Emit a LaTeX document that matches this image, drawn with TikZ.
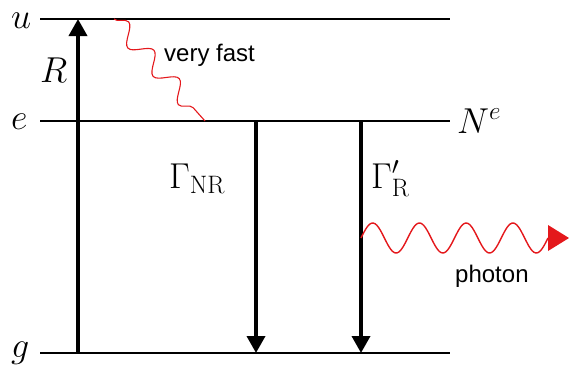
\documentclass[tikz,border=0pt]{standalone}
\usepackage{fix-cm}
\usepackage{fontspec}
\newfontfamily\labelfont{Liberation Sans}
\usetikzlibrary{arrows.meta,decorations.pathmorphing}
\definecolor{photonred}{RGB}{228,24,28}

\begin{document}
\begin{tikzpicture}[x=1pt, y=-1pt,
  level/.style={line width=1.8pt},
  trans/.style={line width=3.6pt, -{Triangle[length=17pt, width=18pt]}},
  sym/.style={font=\fontsize{36}{42}\selectfont, inner sep=0pt, anchor=base west},
  lab/.style={font=\labelfont\fontsize{24}{28}\selectfont, inner sep=0pt, anchor=base west},
  wave/.style={photonred, line width=1.4pt}]
\useasboundingbox (0,0) rectangle (569,364);
% levels
\node[sym] (u) at (11,28) {$u$};
\node[sym] (e) at (11,129) {$e$};
\node[sym] (g) at (11,357) {$g$};
\node[sym] (Ne) at (457,133) {$N^e$};
\coordinate (uL) at (40,19);  \coordinate (uR) at (450,19);
\coordinate (eL) at (40,121); \coordinate (eR) at (450,121);
\coordinate (gL) at (40,353); \coordinate (gR) at (450,353);
\draw[level] (uL) -- (uR);
\draw[level] (eL) -- (eR);
\draw[level] (gL) -- (gR);
% transitions
\coordinate (Rg) at (78,353);  \coordinate (Ru) at (78,19);
\coordinate (NRe) at (256,121); \coordinate (NRg) at (256,353);
\coordinate (Re) at (361,121); \coordinate (Rgg) at (361,353);
\draw[trans] (Rg) -- (Ru);
\draw[trans] (NRe) -- (NRg);
\draw[trans] (Re) -- (Rgg);
\node[sym] (R) at (40,82) {$R$};
\node[sym] (GNR) at (169,188) {$\Gamma_{\mathrm{NR}}$};
\node[sym] (GR) at (371,188) {$\Gamma'_{\mathrm{R}}$};
% fast decay
\coordinate (fu) at (114,19); \coordinate (fe) at (205,121);
\draw[wave, line width=1.1pt, decorate, decoration={snake, segment length=38pt, amplitude=9pt}] (fu) -- (fe);
\node[lab] (fast) at (164,61) {very fast};
% photon
\coordinate (p0) at (361,238); \coordinate (p1) at (548,238);
\draw[wave] (p0) plot[domain=0:187, samples=120, smooth] ({361+\x}, {238-15*sin(\x/46.75*360)});
\fill[photonred] (p1) ++(0,-13) -- ++(21,13) -- ++(-21,13) -- cycle;
\node[lab] (photon) at (455,282) {photon};
\end{tikzpicture}
\end{document}
